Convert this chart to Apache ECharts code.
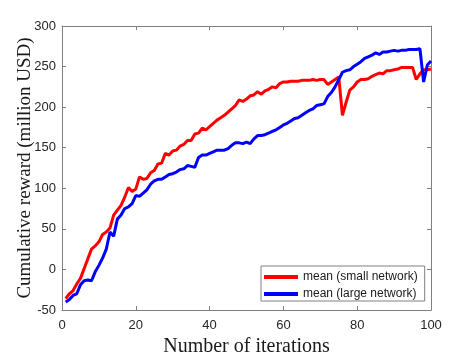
<!DOCTYPE html>
<html>
<head>
<meta charset="utf-8">
<script src="https://cdn.jsdelivr.net/npm/echarts@6/dist/echarts.min.js"></script>
<style>
  html, body { margin: 0; padding: 0; background: #fff; }
  #chart { width: 476px; height: 357px; }
</style>
</head>
<body>
<div id="chart"></div>
<script>
// iterations 1..100
var iterations = [
  1, 2, 3, 4, 5, 6, 7, 8, 9, 10, 11, 12, 13, 14, 15, 16, 17, 18, 19, 20,
  21, 22, 23, 24, 25, 26, 27, 28, 29, 30, 31, 32, 33, 34, 35, 36, 37, 38, 39, 40,
  41, 42, 43, 44, 45, 46, 47, 48, 49, 50, 51, 52, 53, 54, 55, 56, 57, 58, 59, 60,
  61, 62, 63, 64, 65, 66, 67, 68, 69, 70, 71, 72, 73, 74, 75, 76, 77, 78, 79, 80,
  81, 82, 83, 84, 85, 86, 87, 88, 89, 90, 91, 92, 93, 94, 95, 96, 97, 98, 99, 100
];
// mean (small network)
var smallNet = [
  -36, -30, -26, -18, -11, 1, 13, 25, 29, 34, 43, 46, 51, 67, 73, 79, 89, 101, 96, 99,
  114, 111, 112, 119, 122, 130, 131, 143, 141, 146, 147, 152, 154, 159, 159, 167, 168, 174, 172, 176,
  180, 184, 187, 190, 194, 198, 202, 209, 207, 210, 214, 215, 219, 216, 220, 222, 225, 224, 229, 231,
  231, 232, 232, 232, 233, 233, 233, 234, 233, 234, 234, 228, 231, 234, 237, 190, 206, 221, 225, 231,
  234, 234, 235, 238, 240, 242, 241, 245, 245, 246, 247, 249, 249, 249, 249, 234, 241, 246, 246, 247
];
// mean (large network)
var largeNet = [
  -40, -37, -32, -30, -19, -14, -13, -14, -3, 5, 14, 25, 46, 41, 62, 67, 75, 77, 81, 91,
  90, 94, 98, 105, 109, 111, 111, 114, 117, 118, 120, 123, 124, 128, 127, 126, 138, 141, 141, 143,
  145, 147, 147, 147, 149, 153, 156, 156, 155, 157, 155, 161, 165, 165, 166, 168, 170, 172, 175, 178,
  180, 183, 186, 187, 190, 193, 196, 198, 202, 203, 204, 213, 218, 225, 234, 243, 245, 246, 250, 253,
  256, 260, 262, 264, 267, 265, 268, 268, 269, 270, 269, 270, 270, 271, 271, 271, 272, 231, 252, 257
];
var xTicks = [0, 100, 20];   // min, max, step
var yTicks = [-50, 300, 50];

function pairs(ys) {
  var out = [];
  for (var i = 0; i < iterations.length; i++) {
    out.push([iterations[i], ys[i]]);
  }
  return out;
}

var axisColor = '#808080';
var labelFont = { color: '#262626', fontFamily: 'Liberation Sans', fontSize: 13 };

function xAx(pos, withLabels) {
  return {
    type: 'value', position: pos,
    min: xTicks[0], max: xTicks[1], interval: xTicks[2],
    axisLine: { show: true, onZero: false, lineStyle: { color: axisColor, width: 1 } },
    axisTick: { show: true, inside: true, length: 4, lineStyle: { color: axisColor } },
    axisLabel: withLabels ? Object.assign({ margin: 9 }, labelFont) : { show: false },
    splitLine: { show: false },
    name: withLabels ? 'Number of iterations' : '',
    nameLocation: 'middle', nameGap: 27, nameMoveOverlap: false,
    nameTextStyle: { color: '#1a1a1a', fontFamily: 'Liberation Serif', fontSize: 20 }
  };
}
function yAx(pos, withLabels) {
  return {
    type: 'value', position: pos,
    min: yTicks[0], max: yTicks[1], interval: yTicks[2],
    axisLine: { show: true, onZero: false, lineStyle: { color: axisColor, width: 1 } },
    axisTick: { show: true, inside: true, length: 4, lineStyle: { color: axisColor } },
    axisLabel: withLabels ? Object.assign({ margin: 6 }, labelFont) : { show: false },
    splitLine: { show: false },
    name: withLabels ? 'Cumulative reward (million USD)' : '',
    nameLocation: 'middle', nameGap: 27, nameMoveOverlap: false,
    nameTextStyle: { color: '#1a1a1a', fontFamily: 'Liberation Serif', fontSize: 19 }
  };
}

var chart = echarts.init(document.getElementById('chart'));
chart.setOption({
  animation: false,
  backgroundColor: '#fff',
  grid: { left: 62, right: 45, top: 26, bottom: 47, outerBoundsMode: 'none' },
  legend: {
    left: 261, top: 266,
    orient: 'vertical',
    icon: 'rect', itemWidth: 34, itemHeight: 4, itemGap: 5,
    padding: [5, 7, 1, 3],
    borderColor: '#808080', borderWidth: 1, backgroundColor: '#fff',
    textStyle: { color: '#1a1a1a', fontFamily: 'Liberation Sans', fontSize: 12 },
    data: ['mean (small network)', 'mean (large network)']
  },
  xAxis: [xAx('bottom', true), xAx('top', false)],
  yAxis: [yAx('left', true), yAx('right', false)],
  series: [
    {
      name: 'mean (small network)', type: 'line', showSymbol: false,
      color: '#ff0000', lineStyle: { width: 3, color: '#ff0000' },
      data: pairs(smallNet)
    },
    {
      name: 'mean (large network)', type: 'line', showSymbol: false,
      color: '#0000ff', lineStyle: { width: 3, color: '#0000ff' },
      data: pairs(largeNet)
    }
  ]
});
</script>
</body>
</html>
